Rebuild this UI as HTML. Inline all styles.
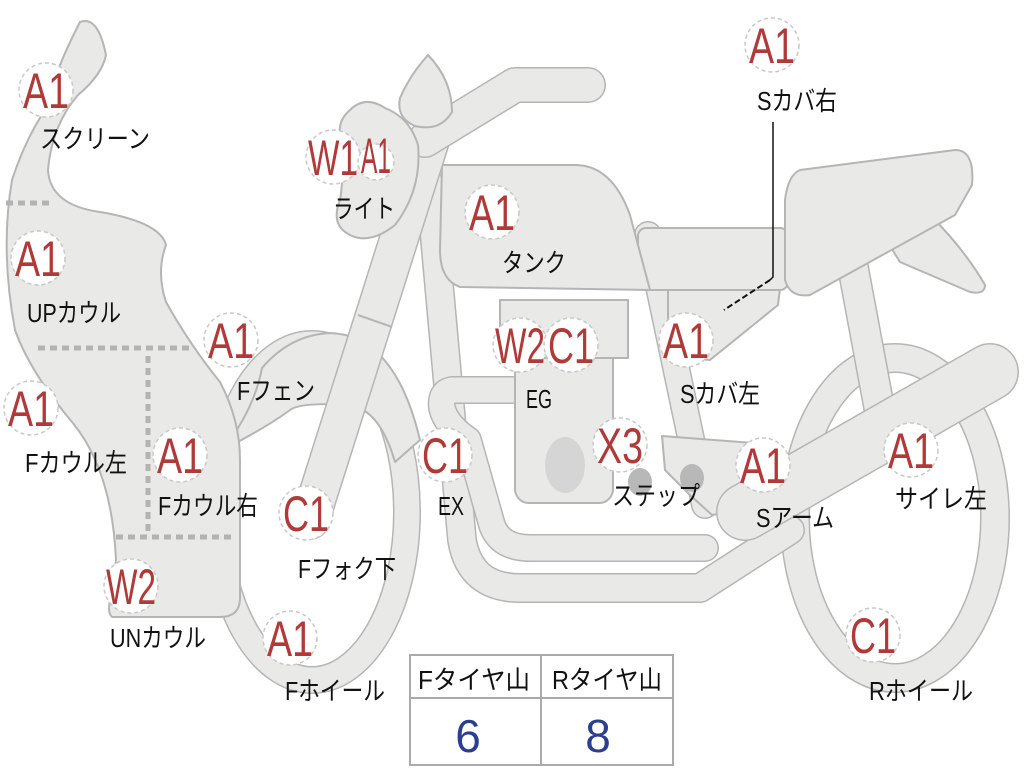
<!DOCTYPE html>
<html><head><meta charset="utf-8"><style>
html,body{margin:0;padding:0;background:#fff;}
svg{display:block;}
.p{fill:#e9e9e7;stroke:#b5b5b5;stroke-width:2;stroke-linejoin:round;}
.to{fill:none;stroke:#b5b5b5;stroke-linecap:round;stroke-linejoin:round;}
.ti{fill:none;stroke:#e9e9e7;stroke-linecap:round;stroke-linejoin:round;}
.c{fill:#fff;stroke:#c8c8c8;stroke-width:1.5;stroke-dasharray:4,3;}
.r{fill:#b03a3a;font-family:"Liberation Sans",sans-serif;font-size:50px;text-anchor:middle;}
.k{fill:#111;font-family:"Liberation Sans","Noto Sans CJK JP",sans-serif;font-size:26px;}
.d{stroke:#b3b3b3;stroke-width:5;stroke-dasharray:7,5;fill:none;}
</style></head><body>
<svg width="1024" height="768" viewBox="0 0 1024 768" xmlns="http://www.w3.org/2000/svg">
<ellipse cx="312" cy="512" rx="95" ry="168" class="to" stroke-width="28"/>
<ellipse cx="312" cy="512" rx="95" ry="168" class="ti" stroke-width="25"/>
<ellipse cx="895" cy="518" rx="100" ry="160" class="to" stroke-width="30"/>
<ellipse cx="895" cy="518" rx="100" ry="160" class="ti" stroke-width="27"/>
<path d="M852,262 L880,412" class="to" stroke-width="32"/>
<path d="M852,262 L880,412" class="ti" stroke-width="29"/>
<path d="M430,185 L462,540 Q470,588 520,588 L700,588 L790,530" class="to" stroke-width="30"/>
<path d="M430,185 L462,540 Q470,588 520,588 L700,588 L790,530" class="ti" stroke-width="27"/>
<path d="M512,390 L452,390 Q440,392 442,408 Q446,425 468,440 L492,525 Q500,548 530,548 L705,548" class="to" stroke-width="28"/>
<path d="M512,390 L452,390 Q440,392 442,408 Q446,425 468,440 L492,525 Q500,548 530,548 L705,548" class="ti" stroke-width="25"/>
<path d="M648,235 L705,505" class="to" stroke-width="28"/>
<path d="M648,235 L705,505" class="ti" stroke-width="25"/>
<path class="p" d="M662,436 L780,445 L790,500 L712,515 L690,495 L665,470 Z"/>
<ellipse cx="640" cy="482" rx="12" ry="14" fill="#b8b8b8"/>
<ellipse cx="692" cy="478" rx="12" ry="14" fill="#b8b8b8"/>
<rect x="515" y="340" width="98" height="163" rx="14" class="p"/>
<rect x="500" y="300" width="128" height="58" class="p"/>
<ellipse cx="565" cy="465" rx="20" ry="28" fill="#d5d5d5"/>
<path d="M745,512 L990,372" class="to" stroke-width="58"/>
<path d="M745,512 L990,372" class="ti" stroke-width="55"/>
<path class="p" d="M668,288 L780,288 L778,305 L710,360 L668,356 Z"/>
<rect x="638" y="228" width="150" height="62" rx="8" class="p"/>
<path class="p" d="M880,230 L930,215 Q965,250 985,285 Q985,295 970,292 L900,262 Z"/>
<path class="p" d="M800,170 L955,150 Q975,150 972,185 L955,215 L810,295 Q790,298 785,280 L785,200 Q788,175 800,170 Z"/>
<path class="p" d="M442,165 L575,165 Q612,165 630,215 L650,290 L460,287 Q440,280 440,250 Z"/>
<path class="p" d="M230,440 Q255,405 262,368 Q290,335 330,333 Q395,335 420,440 L395,462 Q380,410 350,405 Q300,402 290,410 Q270,425 232,445 Z"/>
<path d="M435,125 L310,520" class="to" stroke-width="40"/>
<path d="M435,125 L310,520" class="ti" stroke-width="37"/>
<path d="M358,315 L392,327" stroke="#b5b5b5" stroke-width="2"/>
<path d="M425,140 L515,85 L588,85" class="to" stroke-width="36"/>
<path d="M425,140 L515,85 L588,85" class="ti" stroke-width="33"/>
<path class="p" d="M428,55 Q452,80 452,112 Q440,132 415,126 Q396,118 400,98 Q410,75 428,55 Z"/>
<path class="p" d="M350,110 Q365,95 385,108 Q410,118 418,145 Q422,190 395,225 Q370,245 350,235 Q330,225 340,200 Q345,170 340,135 Q338,120 350,110 Z"/>
<path class="p" d="M80,22 Q98,15 106,55 Q102,75 78,95 Q52,125 48,170 Q50,205 100,212 Q160,222 166,245 Q156,272 166,302 Q190,345 220,382 Q240,420 240,460 L240,598 Q240,617 220,617 L112,617 Q106,612 112,592 L116,560 Q112,470 72,422 Q30,372 15,330 Q0,250 12,180 Q25,140 45,110 Q55,70 80,22 Z"/>
<path class="d" d="M6,203 H50 M38,348 H192 M148,356 V535 M116,537 H236"/>
<path d="M773,122 V277 L770,280" stroke="#111" stroke-width="1.5" fill="none"/>
<path d="M770,280 L724,310" stroke="#111" stroke-width="2" stroke-dasharray="6,3" fill="none"/>
<rect x="410" y="655" width="263" height="110" fill="#fff" stroke="#aaa" stroke-width="2"/>
<path d="M410,698 H673 M541,655 V765" stroke="#aaa" stroke-width="2"/>
<text class="k" x="418" y="689" textLength="112" lengthAdjust="spacingAndGlyphs">Fタイヤ山</text>
<text class="k" x="552" y="689" textLength="110" lengthAdjust="spacingAndGlyphs">Rタイヤ山</text>
<text x="468" y="752" fill="#2b3f8f" font-family="Liberation Sans,sans-serif" font-size="46" text-anchor="middle">6</text>
<text x="598" y="752" fill="#2b3f8f" font-family="Liberation Sans,sans-serif" font-size="46" text-anchor="middle">8</text>
<g>
<circle cx="46" cy="90" r="27" class="c"/><text class="r" x="46" y="108" textLength="46" lengthAdjust="spacingAndGlyphs">A1</text>
<circle cx="38" cy="258" r="27" class="c"/><text class="r" x="38" y="276" textLength="46" lengthAdjust="spacingAndGlyphs">A1</text>
<circle cx="31" cy="408" r="27" class="c"/><text class="r" x="31" y="426" textLength="46" lengthAdjust="spacingAndGlyphs">A1</text>
<circle cx="231" cy="340" r="27" class="c"/><text class="r" x="231" y="358" textLength="46" lengthAdjust="spacingAndGlyphs">A1</text>
<circle cx="180" cy="455" r="27" class="c"/><text class="r" x="180" y="473" textLength="46" lengthAdjust="spacingAndGlyphs">A1</text>
<circle cx="131" cy="586" r="27" class="c"/><text class="r" x="131" y="604" textLength="50" lengthAdjust="spacingAndGlyphs">W2</text>
<circle cx="290" cy="638" r="27" class="c"/><text class="r" x="290" y="656" textLength="46" lengthAdjust="spacingAndGlyphs">A1</text>
<circle cx="306" cy="513" r="27" class="c"/><text class="r" x="306" y="531" textLength="46" lengthAdjust="spacingAndGlyphs">C1</text>
<circle cx="333" cy="157" r="27" class="c"/><text class="r" x="333" y="175" textLength="50" lengthAdjust="spacingAndGlyphs">W1</text>
<circle cx="376" cy="162" r="18" class="c"/><text class="r" x="376" y="173" font-size="30" textLength="30" lengthAdjust="spacingAndGlyphs">A1</text>
<circle cx="492" cy="212" r="27" class="c"/><text class="r" x="492" y="230" textLength="46" lengthAdjust="spacingAndGlyphs">A1</text>
<circle cx="520" cy="345" r="27" class="c"/><text class="r" x="520" y="363" textLength="50" lengthAdjust="spacingAndGlyphs">W2</text>
<circle cx="571" cy="345" r="27" class="c"/><text class="r" x="571" y="363" textLength="46" lengthAdjust="spacingAndGlyphs">C1</text>
<circle cx="686" cy="340" r="27" class="c"/><text class="r" x="686" y="358" textLength="46" lengthAdjust="spacingAndGlyphs">A1</text>
<circle cx="445" cy="455" r="27" class="c"/><text class="r" x="445" y="473" textLength="46" lengthAdjust="spacingAndGlyphs">C1</text>
<circle cx="620" cy="445" r="27" class="c"/><text class="r" x="620" y="463" textLength="46" lengthAdjust="spacingAndGlyphs">X3</text>
<circle cx="763" cy="465" r="27" class="c"/><text class="r" x="763" y="483" textLength="46" lengthAdjust="spacingAndGlyphs">A1</text>
<circle cx="911" cy="450" r="27" class="c"/><text class="r" x="911" y="468" textLength="46" lengthAdjust="spacingAndGlyphs">A1</text>
<circle cx="873" cy="635" r="27" class="c"/><text class="r" x="873" y="653" textLength="46" lengthAdjust="spacingAndGlyphs">C1</text>
<circle cx="772" cy="45" r="27" class="c"/><text class="r" x="772" y="63" textLength="46" lengthAdjust="spacingAndGlyphs">A1</text>
</g>
<g>
<text class="k" x="40" y="148" textLength="110" lengthAdjust="spacingAndGlyphs">スクリーン</text>
<text class="k" x="27" y="322" textLength="94" lengthAdjust="spacingAndGlyphs">UPカウル</text>
<text class="k" x="25" y="472" textLength="102" lengthAdjust="spacingAndGlyphs">Fカウル左</text>
<text class="k" x="237" y="400" textLength="78" lengthAdjust="spacingAndGlyphs">Fフェン</text>
<text class="k" x="158" y="515" textLength="100" lengthAdjust="spacingAndGlyphs">Fカウル右</text>
<text class="k" x="110" y="647" textLength="96" lengthAdjust="spacingAndGlyphs">UNカウル</text>
<text class="k" x="285" y="700" textLength="100" lengthAdjust="spacingAndGlyphs">Fホイール</text>
<text class="k" x="298" y="578" textLength="98" lengthAdjust="spacingAndGlyphs">Fフォク下</text>
<text class="k" x="333" y="218" textLength="62" lengthAdjust="spacingAndGlyphs">ライト</text>
<text class="k" x="502" y="272" textLength="64" lengthAdjust="spacingAndGlyphs">タンク</text>
<text class="k" x="526" y="408" textLength="26" lengthAdjust="spacingAndGlyphs">EG</text>
<text class="k" x="680" y="403" textLength="80" lengthAdjust="spacingAndGlyphs">Sカバ左</text>
<text class="k" x="438" y="515" textLength="26" lengthAdjust="spacingAndGlyphs">EX</text>
<text class="k" x="612" y="505" textLength="88" lengthAdjust="spacingAndGlyphs">ステップ</text>
<text class="k" x="756" y="527" textLength="78" lengthAdjust="spacingAndGlyphs">Sアーム</text>
<text class="k" x="895" y="508" textLength="92" lengthAdjust="spacingAndGlyphs">サイレ左</text>
<text class="k" x="869" y="700" textLength="104" lengthAdjust="spacingAndGlyphs">Rホイール</text>
<text class="k" x="757" y="110" textLength="80" lengthAdjust="spacingAndGlyphs">Sカバ右</text>
</g>
</svg>
</body></html>
